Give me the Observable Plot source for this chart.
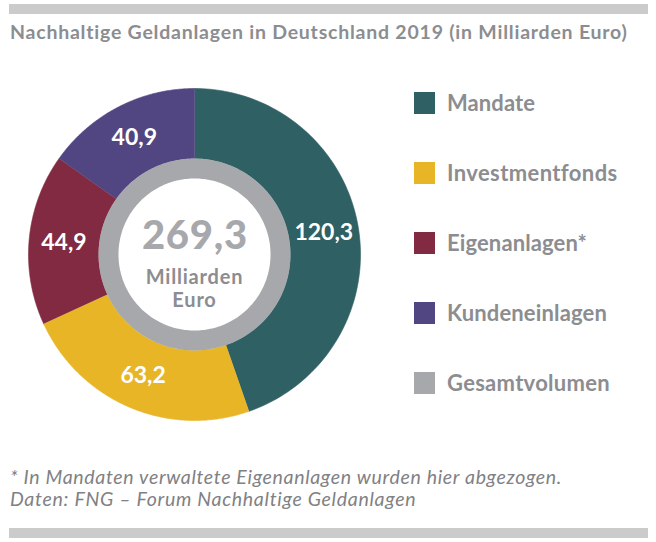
<!DOCTYPE html>
<html><head><meta charset="utf-8">
<script src="https://cdn.jsdelivr.net/npm/d3@7"></script>
<script src="https://cdn.jsdelivr.net/npm/@observablehq/plot@0.6"></script>
<style>
html,body{margin:0;padding:0;background:#fff;}
#wrap{position:relative;width:656px;height:542px;font-family:Lato,"Open Sans",sans-serif;overflow:hidden;}
.bar{position:absolute;left:9px;width:639px;height:10px;background:#cbcbcb;}
#title{position:absolute;left:10px;top:20px;font-size:19.5px;font-weight:700;color:#8c8d90;white-space:nowrap;line-height:24px;}
#chart{position:absolute;left:0;top:0;}
#legend{position:absolute;left:414px;top:92px;}
.item{position:absolute;left:0;height:22px;white-space:nowrap;}
.sw{position:absolute;left:0;top:0;width:21px;height:22px;}
.lab{position:absolute;left:33px;top:-2px;font-size:22px;line-height:26px;font-weight:700;color:#8c8d90;white-space:nowrap;}
.fl{position:absolute;left:10px;font-size:19.5px;font-style:italic;font-weight:400;color:#808184;line-height:22px;white-space:nowrap;}
</style></head>
<body>
<div id="wrap">
  <div class="bar" style="top:4px"></div>
  <div id="title"></div>
  <div id="chart"></div>
  <div id="legend"></div>
  <div class="bar" style="top:528px"></div>
</div>
<script>
// ---- data ----
const title = "Nachhaltige Geldanlagen in Deutschland 2019 (in Milliarden Euro)";
const categories = ["Mandate", "Investmentfonds", "Eigenanlagen*", "Kundeneinlagen"];
const values = [120.3, 63.2, 44.9, 40.9];
const colors = ["#2f6064", "#e8b527", "#822a42", "#524682"];
const totalLabel = "Gesamtvolumen";
const totalColor = "#a7a8ab";
const unitLines = ["Milliarden", "Euro"];
const footLines = ["* In Mandaten verwaltete Eigenanlagen wurden hier abgezogen.",
                   "Daten: FNG – Forum Nachhaltige Geldanlagen"];

// ---- layout helpers ----
const locale = d3.formatLocale({decimal: ",", thousands: ".", grouping: [3], currency: ["", " €"]});
const fmt = locale.format(".1f");

const rOuter = 1, rInner = 0.578, rWhite = 0.458, rLabel = 0.79;
const data = categories.map((c, i) => ({cat: c, value: values[i]}));
const pie = d3.pie().sort(null).value(d => d.value)(data);
const total = d3.sum(values);

function arcPoints(key, a0, a1, r0, r1, n) {
  const pts = [];
  for (let k = 0; k <= n; k++) { const a = a0 + (a1 - a0) * k / n; pts.push({key, x: r1 * Math.sin(a), y: r1 * Math.cos(a)}); }
  for (let k = n; k >= 0; k--) { const a = a0 + (a1 - a0) * k / n; pts.push({key, x: r0 * Math.sin(a), y: r0 * Math.cos(a)}); }
  return pts;
}
function diskPoints(key, r, n) {
  const pts = [];
  for (let k = 0; k <= n; k++) { const a = 2 * Math.PI * k / n; pts.push({key, x: r * Math.sin(a), y: r * Math.cos(a)}); }
  return pts;
}
const slicePts = pie.flatMap(p => arcPoints(p.data.cat, p.startAngle, p.endAngle, rInner, rOuter, 120));
const grayDisk = diskPoints(totalLabel, rInner, 240);
const whiteDisk = diskPoints("white", rWhite, 240);
const labels = pie.map(p => {
  const m = (p.startAngle + p.endAngle) / 2;
  return {x: rLabel * Math.sin(m), y: rLabel * Math.cos(m), text: fmt(p.value)};
});

const W = 656, H = 542, cx = 194, cy = 254, Rpx = 166;
const plot = Plot.plot({
  width: W, height: H, margin: 0,
  style: {fontFamily: "Lato, sans-serif", background: "transparent"},
  x: {domain: [-cx / Rpx, (W - cx) / Rpx], axis: null},
  y: {domain: [-(H - cy) / Rpx, cy / Rpx], axis: null},
  color: {domain: [...categories, totalLabel], range: [...colors, totalColor]},
  marks: [
    Plot.line(slicePts, {x: "x", y: "y", z: "key", fill: "key", stroke: "key", strokeWidth: 0.6}),
    Plot.line(grayDisk, {x: "x", y: "y", z: "key", fill: "key", stroke: "none"}),
    Plot.line(whiteDisk, {x: "x", y: "y", z: "key", fill: "white", stroke: "none"}),
    Plot.text(labels, {x: "x", y: "y", text: "text", fill: "white", fontSize: 23, fontWeight: 700, className: "slab"}),
    Plot.text([{x: 0, y: 0, t: fmt(total)}], {x: "x", y: "y", text: "t", fill: totalColor, fontSize: 40, fontWeight: 900, lineAnchor: "bottom", dy: -6, className: "ctot"}),
    Plot.text([{x: 0, y: 0, t: unitLines[0]}], {x: "x", y: "y", text: "t", fill: "#8c8d90", fontSize: 20, fontWeight: 700, lineAnchor: "bottom", dy: 29, className: "cunit"}),
    Plot.text([{x: 0, y: 0, t: unitLines[1]}], {x: "x", y: "y", text: "t", fill: "#8c8d90", fontSize: 20, fontWeight: 700, lineAnchor: "bottom", dy: 52, className: "cunit"})
  ]
});
document.getElementById("chart").appendChild(plot);

const wrap = document.getElementById("wrap");
function fit(el, target) {
  const n = el.textContent.length;
  const w = el.getBoundingClientRect().width;
  el.style.letterSpacing = ((target - w) / n) + "px";
}
const tEl = document.getElementById("title");
tEl.textContent = title;
fit(tEl, 618);

const legend = document.getElementById("legend");
const legendTargets = [88, 170, 140, 160, 163];
[...categories, totalLabel].forEach((c, i) => {
  const it = document.createElement("div");
  it.className = "item";
  it.style.top = (i * 70) + "px";
  it.innerHTML = `<div class="sw" style="background:${[...colors, totalColor][i]}"></div><div class="lab"></div>`;
  const lab = it.querySelector(".lab");
  lab.textContent = c;
  legend.appendChild(it);
  fit(lab, legendTargets[i]);
});
const footTargets = [552, 406];
footLines.forEach((l, i) => {
  const d = document.createElement("div");
  d.className = "fl";
  d.style.top = (466 + i * 22) + "px";
  d.textContent = l;
  wrap.appendChild(d);
  fit(d, footTargets[i]);
});
// fit centre text widths to the wide original face
function fitSvg(sel, target) {
  plot.querySelectorAll(sel).forEach(t => {
    const w = t.getComputedTextLength();
    const n = t.textContent.length;
    t.setAttribute("letter-spacing", ((target - w) / n).toFixed(2));
    t.setAttribute("dx", ((target - w) / n / 2).toFixed(2));
  });
}
fitSvg(".ctot text", 106);
plot.querySelectorAll(".cunit text").forEach(t => t.setAttribute("letter-spacing", "0.8"));
</script>
</body></html>
